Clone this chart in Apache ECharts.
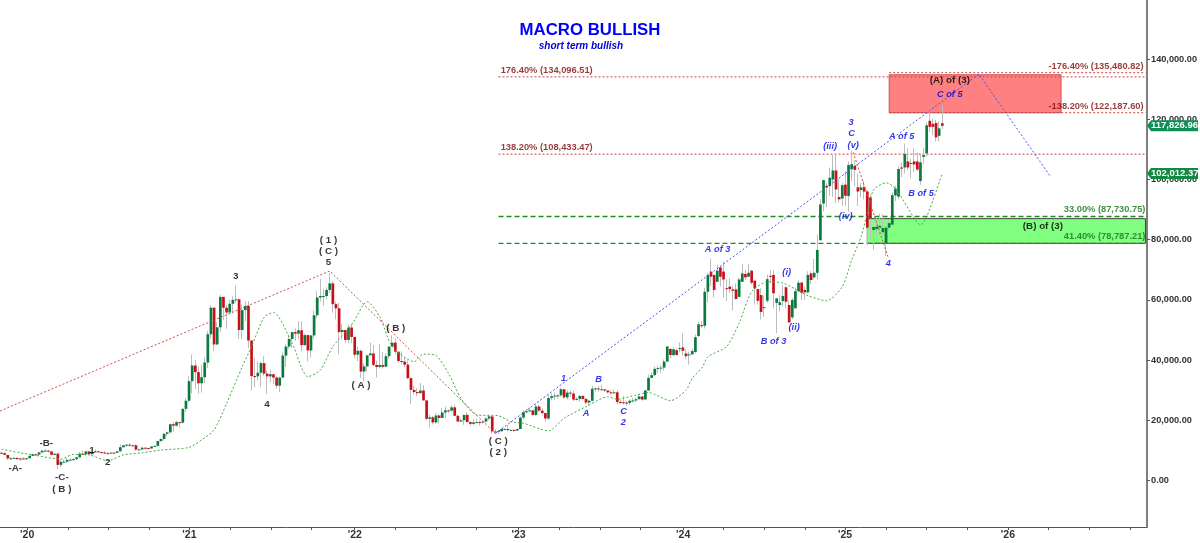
<!DOCTYPE html>
<html>
<head>
<meta charset="utf-8">
<title>Macro Bullish</title>
<style>
  html, body { margin: 0; padding: 0; background: #fff; }
  #chart { width: 1200px; height: 543px; }
</style>
<script src="https://cdn.jsdelivr.net/npm/echarts@6/dist/echarts.min.js"></script>
</head>
<body>
<div id="chart"></div>
<script>
// weekly candles, in thousands of dollars. one line per year, first week is 4 Nov 2019
var openPrices = [
  9.2,9.04,8.5,7.32,7.4,7.52,7.07,7.32,
  7.25,7.41,8.17,8.7,8.6,9.33,9.9,9.93,9.66,8.54,8.9,5.2,6.2,6.26,6.87,6.9,7.1,7.7,8.9,8.72,9.67,8.72,9.45,9.7,9.45,9.3,9.0,9.09,9.25,9.2,9.7,11.05,11.68,11.9,11.65,11.7,10.28,10.32,10.9,10.78,10.67,11.3,11.5,13.1,13.8,15.5,16.0,18.7,18.2,19.4,19.2,23.8,26.5,
  33.0,38.2,36.0,32.3,34.3,39.2,48.6,57.4,45.2,50.9,61.0,57.4,55.8,58.7,60.0,60.2,50.0,56.6,58.0,46.5,34.7,34.6,35.8,39.0,35.5,34.6,35.3,34.2,31.5,34.2,41.5,44.5,47.0,49.3,48.8,49.9,45.0,48.3,43.2,48.2,54.9,60.8,61.3,61.3,63.3,65.5,58.6,57.2,49.3,50.0,46.7,50.8,
  47.7,41.8,43.1,36.2,37.9,41.6,42.2,38.4,37.7,38.4,37.8,41.3,44.5,45.8,42.8,39.7,39.5,38.5,34.0,30.1,29.4,29.0,29.9,26.6,20.5,21.0,19.3,21.6,20.8,22.6,23.3,23.2,24.3,21.5,19.6,20.0,21.8,19.4,18.8,19.3,19.4,19.3,19.6,20.6,21.3,16.3,16.3,16.4,17.1,17.1,16.8,16.8,
  16.6,17.1,20.9,22.7,23.0,23.3,21.8,24.6,23.2,22.4,20.6,27.4,28.0,28.2,28.3,30.3,27.6,29.2,28.9,26.9,27.1,28.1,27.1,25.9,26.5,30.5,30.6,30.3,30.3,29.9,29.3,29.0,29.3,26.1,26.0,25.9,25.8,26.5,26.6,27.0,27.9,26.9,29.9,34.1,35.0,37.1,37.4,37.5,39.5,43.7,41.6,43.3,
  43.8,44.2,42.2,41.8,41.9,42.7,48.0,51.6,51.4,62.7,69.4,68.3,66.0,70.8,69.4,63.9,64.4,63.5,63.5,61.0,66.0,68.6,67.7,69.7,66.4,63.6,61.6,57.5,59.7,68.0,68.3,59.0,58.3,59.6,64.2,58.3,54.2,57.2,62.9,65.8,63.3,62.5,68.8,67.5,69.0,79.8,92.0,97.9,97.8,100.0,103.0,94.2,
  93.7,98.3,94.5,103.4,104.5,97.4,96.5,97.4,96.0,94.0,83.2,83.5,84.0,82.5,78.8,84.0,85.0,94.7,94.3,104.0,104.0,106.0,105.5,106.0,106.0,99.5,107.5,108.7,119.5,118.5,118.8,114.5,118.7
];
var closePrices = [
  9.04,8.5,7.32,7.4,7.52,7.07,7.32,7.25,
  7.41,8.17,8.7,8.6,9.33,9.9,9.93,9.66,8.54,8.9,5.2,6.2,6.26,6.87,6.9,7.1,7.7,8.9,8.72,9.67,8.72,9.45,9.7,9.45,9.3,9.0,9.09,9.25,9.2,9.7,11.05,11.68,11.9,11.65,11.7,10.28,10.32,10.9,10.78,10.67,11.3,11.5,13.1,13.8,15.5,16.0,18.7,18.2,19.4,19.2,23.8,26.5,33.0,
  38.2,36.0,32.3,34.3,39.2,48.6,57.4,45.2,50.9,61.0,57.4,55.8,58.7,60.0,60.2,50.0,56.6,58.0,46.5,34.7,34.6,35.8,39.0,35.5,34.6,35.3,34.2,31.5,34.2,41.5,44.5,47.0,49.3,48.8,49.9,45.0,48.3,43.2,48.2,54.9,60.8,61.3,61.3,63.3,65.5,58.6,57.2,49.3,50.0,46.7,50.8,47.7,
  41.8,43.1,36.2,37.9,41.6,42.2,38.4,37.7,38.4,37.8,41.3,44.5,45.8,42.8,39.7,39.5,38.5,34.0,30.1,29.4,29.0,29.9,26.6,20.5,21.0,19.3,21.6,20.8,22.6,23.3,23.2,24.3,21.5,19.6,20.0,21.8,19.4,18.8,19.3,19.4,19.3,19.6,20.6,21.3,16.3,16.3,16.4,17.1,17.1,16.8,16.8,16.6,
  17.1,20.9,22.7,23.0,23.3,21.8,24.6,23.2,22.4,20.6,27.4,28.0,28.2,28.3,30.3,27.6,29.2,28.9,26.9,27.1,28.1,27.1,25.9,26.5,30.5,30.6,30.3,30.3,29.9,29.3,29.0,29.3,26.1,26.0,25.9,25.8,26.5,26.6,27.0,27.9,26.9,29.9,34.1,35.0,37.1,37.4,37.5,39.5,44.5,41.7,43.6,41.7,
  44.0,43.1,41.3,41.9,43.0,47.6,51.9,51.3,62.7,68.3,67.7,63.3,69.7,67.7,66.8,63.8,63.6,63.0,60.3,66.8,68.8,67.5,69.0,65.7,63.8,59.7,56.0,57.6,66.9,67.9,62.2,60.5,59.2,61.3,59.4,52.5,60.0,62.9,65.7,62.4,62.5,68.3,66.6,69.0,76.6,91.7,99.8,97.4,100.6,103.0,96.7,93.4,
  98.1,94.6,104.8,105.1,103.2,96.0,97.4,96.0,84.0,87.0,84.2,84.3,84.6,83.9,84.0,85.5,94.8,97.0,103.5,103.6,108.5,104.0,105.2,105.0,103.3,105.7,108.1,118.0,117.5,117.5,114.0,117.0,117.83
];
var highPrices = [
  9.55,9.5,8.5,7.85,7.7,7.6,7.55,7.7,
  7.6,8.45,9.0,8.95,9.6,10.15,10.5,10.2,9.7,9.2,9.2,6.9,6.95,7.45,7.45,7.3,7.8,9.45,10.0,9.9,9.85,9.6,10.4,9.95,9.55,9.7,9.35,9.45,9.35,9.8,12.0,11.8,12.1,12.4,11.8,12.0,10.6,11.1,10.95,10.95,11.45,11.7,13.2,14.0,15.9,16.3,18.9,19.4,19.9,19.4,24.2,27.4,34.8,
  41.9,40.1,37.8,38.5,40.9,49.7,58.3,57.5,52.6,61.7,61.0,58.4,60.0,61.2,64.8,60.4,58.5,59.5,59.6,46.6,40.8,39.5,39.5,41.3,36.6,36.6,35.1,34.7,34.5,42.6,45.3,48.1,49.4,50.5,52.9,52.9,48.8,48.4,48.4,56.5,62.9,67.0,63.7,64.2,69.0,66.3,59.4,59.0,51.9,49.5,51.9,52.1,
  47.5,44.4,43.5,38.9,41.7,45.8,45.0,39.8,45.4,42.6,42.3,44.5,48.2,47.2,41.6,42.9,40.8,39.9,34.3,31.4,30.6,32.4,31.7,26.9,21.9,21.5,22.4,21.9,24.2,24.6,23.6,25.0,25.2,21.8,20.5,21.8,22.7,19.7,20.3,20.4,19.9,19.7,20.9,21.4,21.0,17.1,16.8,17.3,17.4,18.3,17.0,16.9,
  17.4,21.3,23.4,23.8,24.3,23.4,25.3,25.2,23.9,22.6,28.5,28.9,29.2,28.6,30.9,30.5,30.0,29.9,29.8,27.7,28.4,28.4,27.4,26.8,31.4,31.0,31.5,31.8,30.4,30.0,30.0,30.2,30.0,26.8,28.1,26.4,26.9,27.5,27.5,28.6,28.0,30.2,35.2,35.9,37.9,37.9,38.4,40.2,44.7,44.0,44.3,43.8,
  45.9,48.9,43.6,42.8,43.8,48.5,52.8,52.9,64.0,69.0,73.8,68.1,71.7,71.3,72.7,66.9,67.2,64.7,65.5,67.4,71.9,70.0,71.9,70.0,66.5,63.4,63.8,61.4,68.4,69.9,70.0,60.7,61.6,65.0,64.5,59.8,60.6,64.1,66.5,65.0,64.4,69.5,69.5,73.6,81.8,93.5,99.8,98.7,104.0,108.3,108.3,99.9,
  98.9,102.7,106.0,109.5,106.4,102.0,98.8,99.5,96.5,95.0,84.5,87.4,88.7,88.5,84.2,86.4,95.7,97.9,104.3,105.7,111.9,110.4,106.8,110.5,108.9,108.5,110.5,119.0,123.2,120.2,119.8,119.3,124.5
];
var lowPrices = [
  9.0,8.4,6.8,6.85,7.15,7.0,6.43,7.1,
  6.85,7.35,8.1,8.25,8.3,9.1,9.7,9.3,8.45,8.4,3.85,4.4,5.7,5.9,6.8,6.5,6.8,7.6,8.6,8.2,8.7,8.6,9.3,9.2,8.95,8.9,8.9,9.1,9.0,9.1,9.6,10.95,11.1,11.3,11.1,9.9,10.2,10.2,10.2,10.35,10.5,11.2,11.3,12.9,13.2,14.8,15.7,16.2,18.0,17.6,19.0,22.7,25.9,
  29.0,30.4,28.9,29.2,32.3,37.4,47.1,43.0,44.9,49.3,53.3,50.4,55.8,55.5,59.0,47.0,47.0,52.9,43.9,30.0,31.0,33.4,31.1,34.8,28.8,32.7,32.1,30.5,29.3,34.0,37.7,43.8,44.0,46.4,47.0,42.9,44.7,39.6,40.8,47.2,53.9,59.5,58.0,60.1,62.3,55.7,53.5,42.0,46.9,45.6,45.6,45.7,
  40.6,39.7,34.0,32.9,36.3,41.7,38.0,34.3,37.2,37.2,37.6,40.5,44.9,41.9,39.2,38.6,37.6,33.7,25.4,28.7,28.0,28.9,26.6,20.1,17.6,18.6,18.8,18.9,20.8,20.7,22.4,22.7,21.3,19.5,19.5,18.5,19.3,18.2,18.5,19.0,18.2,18.9,19.2,20.0,15.6,15.8,15.5,16.1,16.7,16.3,16.4,16.3,
  16.5,17.3,20.4,22.4,22.7,21.5,21.4,22.8,21.9,19.6,20.1,26.6,26.6,27.2,27.8,27.1,26.9,27.7,26.4,26.6,26.1,26.5,25.4,24.8,26.2,29.5,29.5,29.9,29.5,28.9,28.6,28.8,25.4,25.4,25.3,24.9,25.1,26.0,26.0,27.2,26.5,26.9,29.9,34.1,34.7,35.6,35.7,36.6,39.4,40.7,41.7,41.5,
  42.6,41.5,40.3,38.5,41.9,42.3,47.7,50.6,50.5,59.2,64.6,60.8,66.4,64.5,60.7,59.6,62.4,56.5,60.2,60.8,66.6,66.6,67.6,65.1,58.4,58.5,53.5,54.3,59.0,65.7,57.2,49.0,56.1,57.9,57.2,52.6,53.6,57.5,62.7,59.9,60.0,62.1,65.3,66.8,66.8,80.2,89.4,90.8,94.5,94.2,92.2,92.5,
  91.3,91.2,89.3,99.5,97.8,91.2,94.1,93.4,78.2,80.5,76.6,81.2,81.5,81.3,74.5,83.1,85.1,92.8,93.4,100.8,102.0,103.1,100.4,102.6,102.7,98.2,105.2,107.5,115.8,114.7,112.7,112.7,116.8
];

// the rest of the chart is placed on a week number axis, 0 is the first candle
var weekCount = 367;

// green dotted average, week and value
var avgWeeks = [0,6,10,19,23,28,34,39,45,51,60,64,68,72,77,80,84,87,93,98,102,106,112,117,121,125,132,135,139,143,147,152,159,163,167,175,180,187,194,197,203,207,214,219,221,224,226,232,236,240,245,250,258,264,269,272,275,277,279,283,286,292,294,296,301];
var avgValues = [10.4,9.2,8.5,7.1,8.7,8.5,6.6,8.5,9.2,10.1,11,13.5,16.8,25.6,37.8,44.5,54.2,55.8,45.6,34.5,36.7,44.5,51.7,59.4,54.4,44.5,39.5,42,41.5,35.6,27.3,21.8,21.5,19.5,19,16.5,20.7,24.5,27.8,27,28.4,29.2,26.5,30,34,37.3,41.1,44.5,52.3,62.7,66,65.6,61.4,59.7,64.4,73.2,81,88.8,96.5,98.9,97,87.2,84.9,87.6,102.01];

// wave lines
var redWaveWeeks = [-0.5,105,158];
var redWaveValues = [23.1,69.6,15.6];
var blueWaveWeeks = [158,312.7,335.6];
var blueWaveValues = [15.6,135,101];
var wave4Weeks = [272.5,283.6];
var wave4Values = [109,74.4];

// fib levels: value, first week
var fibRedLevels = [[134.09651,159],[108.43347,159],[135.48082,284],[122.1876,284]];
var fibGreenLevels = [[87.73075,159],[78.78721,159]];
var fibEndWeek = 366;

// target zones: first week, last week, top, bottom
var redZone = [284,339,134.8,122.19];
var greenZone = [277,366,87.0,78.79];

// wave counts: week, value, text
var blackLabels = [
  [4.4,4.0,'-A-'],[14.3,12.4,'-B-'],[19.3,1.1,'-C-'],[19.3,-2.8,'( B )'],[28.9,10.1,'1'],[34,6.1,'2'],
  [74.9,68,'3'],[84.9,25.4,'4'],[104.6,79.9,'( 1 )'],[104.6,76.2,'( C )'],[104.6,72.4,'5'],
  [115,31.5,'( A )'],[126.1,50.6,'( B )'],[158.9,13.1,'( C )'],[158.9,9.4,'( 2 )'],
  [303.4,133,'(A) of (3)'],[333.2,84.6,'(B) of (3)']
];
var blueLabels = [
  [179.8,34,'1'],[187,22.3,'A'],[191,33.7,'B'],[199,22.8,'C'],[198.9,19.2,'2'],[229.1,76.9,'A of 3'],
  [251.2,69,'(i)'],[253.6,50.9,'(ii)'],[247,46.3,'B of 3'],[265.1,111.1,'(iii)'],[271.8,118.9,'3'],
  [272,115.3,'C'],[272.5,111.2,'(v)'],[270.1,87.6,'(iv)'],[288,114.2,'A of 5'],[294.2,95.2,'B of 5'],
  [283.7,72.2,'4'],[303.4,128.1,'C of 5']
];
var fibLeftLabels = [[159.7,136.1,'176.40% (134,096.51)'],[159.7,110.5,'138.20% (108,433.47)']];
var fibRightLabels = [[365.4,137.7,'-176.40% (135,480.82)'],[365.4,124.2,'-138.20% (122,187.60)']];
var fibGreenLabels = [[366,90.1,'33.00% (87,730.75)'],[366,81,'41.40% (78,787.21)']];

// axis ticks
var priceTicks = [0,20,40,60,80,100,120,140];
var timeTicks = [8.2,21.2,34.2,47.2,60.1,73.2,86.2,99.2,113,126,139,152,165.4,178.4,191.4,204.4,218.1,231,244,257,269.9,283,296,309,322,335,348,361];
var yearTicks = [8.2,60.1,113,165.4,218.1,269.9,322];
var yearLabels = ["'20","'21","'22","'23","'24","'25","'26"];
var priceTags = [117.82696,102.01237];
var tagColors = ['#0e8f58','#0f8a40'];

var fontName = '"Liberation Sans", Arial, sans-serif';

function money(v) {
  return (v * 1000).toLocaleString('en-US', { minimumFractionDigits: 2, maximumFractionDigits: 2 });
}

function pairs(xs, ys) {
  return xs.map(function (x, i) { return [x, ys[i]]; });
}

(function () {
  var myChart = echarts.init(document.getElementById('chart'), null, { renderer: 'canvas' });

  var categories = [];
  for (var i = 0; i < weekCount; i++) {
    categories.push(String(i));
  }

  // gray wicks first, the colored bodies go over them
  var wickData = openPrices.map(function (o, i) {
    return [o, closePrices[i], lowPrices[i], highPrices[i]];
  });
  var bodyData = openPrices.map(function (o, i) {
    return [i, o, closePrices[i]];
  });

  function waveLine(data, color, smooth) {
    return {
      type: 'line', xAxisIndex: 1, data: data, symbol: 'none', smooth: smooth || false, z: 5, silent: true,
      lineStyle: { color: color, width: 1, type: [2, 2] }
    };
  }

  function levelLine(level, color, kind) {
    return {
      type: 'line', xAxisIndex: 1, data: [[level[1], level[0]], [fibEndWeek, level[0]]], symbol: 'none', z: 2, silent: true,
      lineStyle: { color: color, width: kind == 'dashed' ? 1.4 : 1, type: kind == 'dashed' ? [5, 3] : [2, 2] }
    };
  }

  function textSeries(items, style, align) {
    return {
      type: 'scatter', xAxisIndex: 1, symbolSize: 1, z: 6, silent: true,
      itemStyle: { color: 'transparent' },
      data: items.map(function (a) { return { value: [a[0], a[1]], name: a[2] }; }),
      label: Object.assign({
        show: true, position: 'inside', formatter: '{b}', align: align || 'center', verticalAlign: 'middle',
        fontFamily: fontName, textBorderWidth: 0
      }, style)
    };
  }

  var series = [
    {
      // zones sit under everything
      type: 'line', xAxisIndex: 1, data: [], z: 1, silent: true,
      markArea: {
        silent: true,
        data: [
          [{ xAxis: redZone[0], yAxis: redZone[2], itemStyle: { color: '#ff8080', borderColor: '#d05050', borderWidth: 1 } }, { xAxis: redZone[1], yAxis: redZone[3] }],
          [{ xAxis: greenZone[0], yAxis: greenZone[2], itemStyle: { color: '#80ff80', borderColor: '#444444', borderWidth: 1 } }, { xAxis: greenZone[1], yAxis: greenZone[3] }]
        ]
      }
    },
    {
      type: 'candlestick', data: wickData, barWidth: 1, z: 3, silent: true,
      itemStyle: { color: '#bdbdbd', color0: '#bdbdbd', borderColor: '#bdbdbd', borderColor0: '#bdbdbd', borderWidth: 1 }
    },
    {
      // bodies, drawn without pixel snapping so the 3px spacing stays even
      type: 'custom', xAxisIndex: 1, data: bodyData, z: 4, silent: true,
      renderItem: function (params, api) {
        var a = api.coord([api.value(0), api.value(1)]);
        var b = api.coord([api.value(0), api.value(2)]);
        var top = Math.min(a[1], b[1]);
        return {
          type: 'rect',
          shape: { x: a[0] - 1.35, y: top, width: 2.7, height: Math.max(1, Math.abs(a[1] - b[1])) },
          style: { fill: api.value(2) >= api.value(1) ? '#0a7a3e' : '#c8101a' }
        };
      }
    },
    waveLine(pairs(avgWeeks, avgValues), '#3fae3f', 0.25),
    waveLine(pairs(redWaveWeeks, redWaveValues), '#c85050'),
    waveLine(pairs(blueWaveWeeks, blueWaveValues), '#5050f0'),
    waveLine(pairs(wave4Weeks, wave4Values), '#c85050'),
    textSeries(blackLabels, { color: '#000', fontSize: 9.8, fontWeight: 'bold' }),
    textSeries(blueLabels, { color: '#0000e8', fontSize: 9.2, fontWeight: 'bold', fontStyle: 'italic' }),
    textSeries(fibLeftLabels, { color: '#800a0a', fontSize: 9.3, fontWeight: 'bold' }, 'left'),
    textSeries(fibRightLabels, { color: '#800a0a', fontSize: 9.3, fontWeight: 'bold' }, 'right'),
    textSeries(fibGreenLabels, { color: '#157515', fontSize: 9.3, fontWeight: 'bold' }, 'right'),
    {
      // price tags on the right axis
      type: 'custom', xAxisIndex: 1, z: 8, silent: true, clip: false,
      data: priceTags.map(function (v) { return [weekCount - 0.5, v]; }),
      renderItem: function (params, api) {
        var p = api.coord([api.value(0), api.value(1)]);
        return {
          type: 'group',
          children: [
            {
              type: 'polygon',
              shape: { points: [[p[0], p[1]], [p[0] + 4, p[1] - 5.5], [p[0] + 51, p[1] - 5.5], [p[0] + 51, p[1] + 5.5], [p[0] + 4, p[1] + 5.5]] },
              style: { fill: tagColors[params.dataIndex] }
            },
            {
              type: 'text',
              style: {
                x: p[0] + 4, y: p[1], text: money(api.value(1)), fill: '#fff', font: 'bold 9.5px ' + fontName,
                textAlign: 'left', textVerticalAlign: 'middle'
              }
            }
          ]
        };
      }
    }
  ];

  fibRedLevels.forEach(function (l) { series.push(levelLine(l, '#c04545', 'dotted')); });
  fibGreenLevels.forEach(function (l) { series.push(levelLine(l, '#1f8f1f', 'dashed')); });

  var option = {
    animation: false,
    backgroundColor: '#fff',
    title: [
      { text: 'MACRO BULLISH', left: 590, top: 22, padding: 0, textAlign: 'center', textStyle: { color: '#0000ff', fontSize: 16.8, fontWeight: 'bold', fontFamily: fontName } },
      { text: 'short term bullish', left: 581, top: 41, padding: 0, textAlign: 'center', textStyle: { color: '#0000d0', fontSize: 10, fontWeight: 'bold', fontStyle: 'italic', fontFamily: fontName } }
    ],
    grid: { left: -1.27, right: 52, top: 0, bottom: 16 },
    xAxis: [
      { type: 'category', data: categories, show: false, boundaryGap: true },
      {
        type: 'value', min: -0.5, max: weekCount - 0.5, position: 'bottom', splitLine: { show: false },
        axisLine: { show: true, onZero: false, lineStyle: { color: '#555', width: 1 } },
        axisTick: { show: true, length: 3, customValues: timeTicks, lineStyle: { color: '#555' } },
        axisLabel: {
          customValues: yearTicks, color: '#333', fontSize: 10.5, fontWeight: 'bold', fontFamily: fontName, margin: 3,
          formatter: function (v) { return yearLabels[yearTicks.indexOf(v)]; }
        }
      }
    ],
    yAxis: {
      type: 'value', position: 'right', min: -15.449, max: 159.635, scale: true, splitLine: { show: false },
      axisLine: { show: true, onZero: false, lineStyle: { color: '#555', width: 1.5 } },
      axisTick: { show: true, length: 3, customValues: priceTicks, lineStyle: { color: '#555' } },
      axisLabel: {
        customValues: priceTicks, color: '#333', fontSize: 9.2, fontWeight: 'bold', fontFamily: fontName, margin: 4,
        formatter: function (v) { return money(v); }
      }
    },
    series: series
  };

  myChart.setOption(option);
})();
</script>
</body>
</html>
